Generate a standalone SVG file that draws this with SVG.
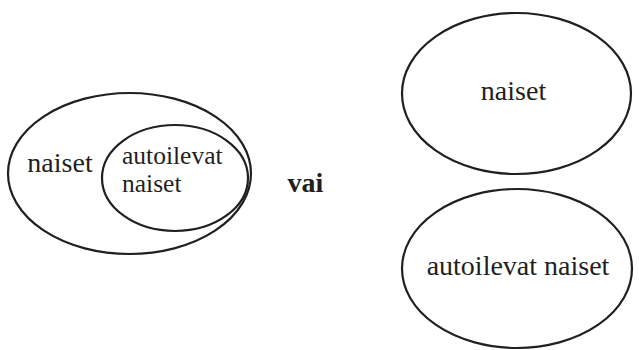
<svg xmlns="http://www.w3.org/2000/svg" width="639" height="350" viewBox="0 0 639 350">
<style>
.sh{fill:none;stroke:#231f20;stroke-width:2.2}
text{font-family:'Liberation Serif','Times New Roman',serif;fill:#231f20;font-size:28px}
.s{font-size:25.5px}
.b{font-weight:bold}
</style>
<rect width="639" height="350" fill="#fff"/>
<g id="outer-naiset">
<ellipse class="sh" cx="129.5" cy="173.5" rx="121.5" ry="80.5"/>
<text x="60" y="172" text-anchor="middle">naiset</text>
</g>
<g id="inner-autoilevat">
<ellipse class="sh" cx="175" cy="178" rx="73" ry="53"/>
<text class="s" x="122" y="164">autoilevat</text>
<text class="s" x="122" y="192">naiset</text>
</g>
<g id="vai">
<text class="b" x="305.5" y="192" text-anchor="middle">vai</text>
</g>
<g id="right-naiset">
<ellipse class="sh" cx="516.5" cy="93.5" rx="114.5" ry="80.5"/>
<text x="513.5" y="100" text-anchor="middle">naiset</text>
</g>
<g id="right-autoilevat">
<ellipse class="sh" cx="517" cy="268.5" rx="115" ry="79.5"/>
<text x="518" y="275" text-anchor="middle">autoilevat naiset</text>
</g>
<g id="connectors"/>
</svg>
